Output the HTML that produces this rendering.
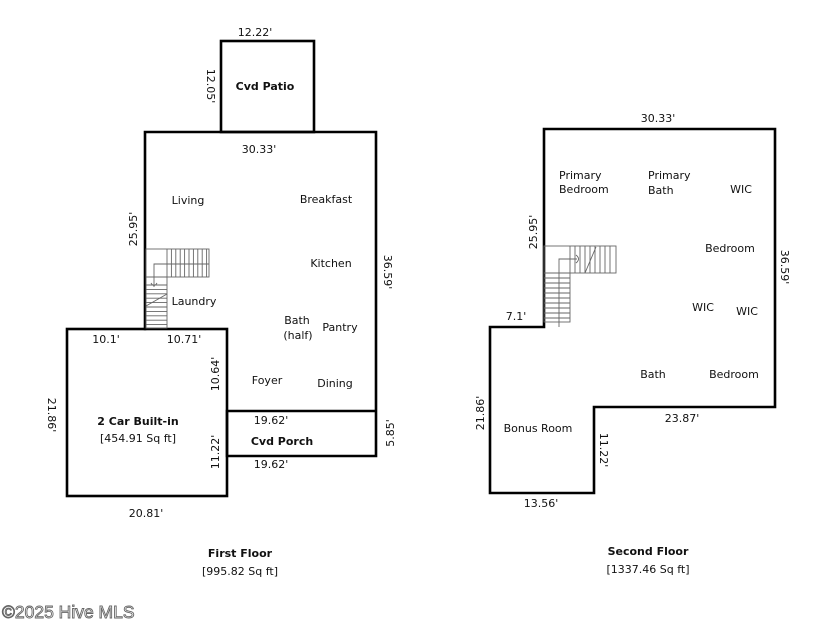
<!DOCTYPE html>
<html><head><meta charset="utf-8"><style>
html,body{margin:0;padding:0;background:#fff;}
svg{display:block;}
text{font-family:"DejaVu Sans","Liberation Sans",sans-serif;font-size:11px;fill:#111;}
.b{font-weight:bold;}
.c{text-anchor:middle;}
.w{fill:none;stroke:#000;stroke-width:2.6;stroke-linecap:square;}
.s{fill:none;stroke:#666;stroke-width:0.9;}
</style></head><body>
<svg width="840" height="641" viewBox="0 0 840 641" xmlns="http://www.w3.org/2000/svg">
<!-- FIRST FLOOR walls -->
<rect class="w" x="221" y="41" width="93" height="91"/>
<polyline class="w" points="145,329 145,132 376,132 376,456 227,456 227,411 376,411"/>
<rect class="w" x="67" y="329" width="160" height="167"/>

<!-- first floor stairs -->
<g class="s">
<rect x="146" y="249" width="63" height="28"/>
<line x1="167" y1="249" x2="167" y2="277"/>
<line x1="171.4" y1="249" x2="171.4" y2="277"/>
<line x1="175.8" y1="249" x2="175.8" y2="277"/>
<line x1="180.2" y1="249" x2="180.2" y2="277"/>
<line x1="184.6" y1="249" x2="184.6" y2="277"/>
<line x1="189" y1="249" x2="189" y2="277"/>
<line x1="193.4" y1="249" x2="193.4" y2="277"/>
<line x1="197.8" y1="249" x2="197.8" y2="277"/>
<line x1="202.2" y1="249" x2="202.2" y2="277"/>
<line x1="206.6" y1="249" x2="206.6" y2="277"/>
<rect x="146" y="277" width="21" height="51"/>
<line x1="146" y1="285" x2="167" y2="285"/>
<line x1="146" y1="289.4" x2="167" y2="289.4"/>
<line x1="146" y1="293.8" x2="167" y2="293.8"/>
<line x1="146" y1="298.2" x2="167" y2="298.2"/>
<line x1="146" y1="302.6" x2="167" y2="302.6"/>
<line x1="146" y1="307" x2="167" y2="307"/>
<line x1="146" y1="311.4" x2="167" y2="311.4"/>
<line x1="146" y1="315.8" x2="167" y2="315.8"/>
<line x1="146" y1="320.2" x2="167" y2="320.2"/>
<line x1="146" y1="324.6" x2="167" y2="324.6"/>
<polyline points="209,264 154,264 154,287"/>
<path d="M151,283 Q154,288 157,283"/>
<line x1="146" y1="306" x2="167" y2="294"/>
</g>

<!-- SECOND FLOOR walls -->
<polyline class="w" points="544,327 544,129 775,129 775,407 594,407 594,493 490,493 490,327 544,327"/>

<!-- second floor stairs -->
<g class="s">
<rect x="544" y="246" width="72" height="27"/>
<line x1="570" y1="246" x2="570" y2="273"/>
<line x1="575" y1="246" x2="575" y2="273"/>
<line x1="580" y1="246" x2="580" y2="273"/>
<line x1="585" y1="246" x2="585" y2="273"/>
<line x1="590" y1="246" x2="590" y2="273"/>
<line x1="595" y1="246" x2="595" y2="273"/>
<line x1="600" y1="246" x2="600" y2="273"/>
<line x1="605" y1="246" x2="605" y2="273"/>
<line x1="610" y1="246" x2="610" y2="273"/>
<rect x="544" y="273" width="26" height="49"/>
<line x1="544" y1="278" x2="570" y2="278"/>
<line x1="544" y1="283" x2="570" y2="283"/>
<line x1="544" y1="288" x2="570" y2="288"/>
<line x1="544" y1="293" x2="570" y2="293"/>
<line x1="544" y1="298" x2="570" y2="298"/>
<line x1="544" y1="303" x2="570" y2="303"/>
<line x1="544" y1="308" x2="570" y2="308"/>
<line x1="544" y1="313" x2="570" y2="313"/>
<line x1="544" y1="318" x2="570" y2="318"/>
<polyline points="559,327 559,259 577,259"/>
<path d="M576,255 Q581,259 576,263"/>
<line x1="585" y1="273" x2="596" y2="247"/>
</g>

<!-- FIRST FLOOR text -->
<text class="c" x="255" y="36">12.22'</text>
<text class="c b" x="265" y="90">Cvd Patio</text>
<text class="c" transform="translate(211,86) rotate(90)" y="4">12.05'</text>
<text class="c" x="259" y="153">30.33'</text>
<text class="c" x="188" y="204">Living</text>
<text class="c" x="326" y="203">Breakfast</text>
<text class="c" transform="translate(133,229) rotate(-90)" y="4">25.95'</text>
<text class="c" x="331" y="267">Kitchen</text>
<text class="c" transform="translate(388,272) rotate(90)" y="4">36.59'</text>
<text class="c" x="194" y="305">Laundry</text>
<text class="c" x="297" y="324">Bath</text>
<text class="c" x="298" y="339">(half)</text>
<text class="c" x="340" y="331">Pantry</text>
<text class="c" x="106" y="343">10.1'</text>
<text class="c" x="184" y="343">10.71'</text>
<text class="c" transform="translate(215,374) rotate(-90)" y="4">10.64'</text>
<text class="c" x="267" y="384">Foyer</text>
<text class="c" x="335" y="387">Dining</text>
<text class="c b" x="138" y="425">2 Car Built-in</text>
<text class="c" x="138" y="442">[454.91 Sq ft]</text>
<text class="c" transform="translate(52,415) rotate(90)" y="4">21.86'</text>
<text class="c" x="271" y="424">19.62'</text>
<text class="c b" x="282" y="445">Cvd Porch</text>
<text class="c" x="271" y="468">19.62'</text>
<text class="c" transform="translate(390,433) rotate(-90)" y="4">5.85'</text>
<text class="c" transform="translate(215,452) rotate(-90)" y="4">11.22'</text>
<text class="c" x="146" y="517">20.81'</text>
<text class="c b" x="240" y="557">First Floor</text>
<text class="c" x="240" y="575">[995.82 Sq ft]</text>

<!-- SECOND FLOOR text -->
<text class="c" x="658" y="122">30.33'</text>
<text x="559" y="179">Primary</text>
<text x="559" y="193">Bedroom</text>
<text x="648" y="179">Primary</text>
<text x="648" y="194">Bath</text>
<text class="c" x="741" y="193">WIC</text>
<text class="c" x="730" y="252">Bedroom</text>
<text class="c" transform="translate(785,267) rotate(90)" y="4">36.59'</text>
<text class="c" transform="translate(533,232) rotate(-90)" y="4">25.95'</text>
<text class="c" x="703" y="311">WIC</text>
<text class="c" x="747" y="315">WIC</text>
<text class="c" x="516" y="320">7.1'</text>
<text class="c" x="653" y="378">Bath</text>
<text class="c" x="734" y="378">Bedroom</text>
<text class="c" transform="translate(480,413) rotate(-90)" y="4">21.86'</text>
<text class="c" x="682" y="422">23.87'</text>
<text class="c" x="538" y="432">Bonus Room</text>
<text class="c" transform="translate(604,450) rotate(90)" y="4">11.22'</text>
<text class="c" x="541" y="507">13.56'</text>
<text class="c b" x="648" y="555">Second Floor</text>
<text class="c" x="648" y="573">[1337.46 Sq ft]</text>

<text x="2" y="618" style="font-family:'Liberation Sans',sans-serif;font-size:17.5px;fill:#fff;stroke:#666;stroke-width:0.9;">©2025 Hive MLS</text>
</svg>
</body></html>
